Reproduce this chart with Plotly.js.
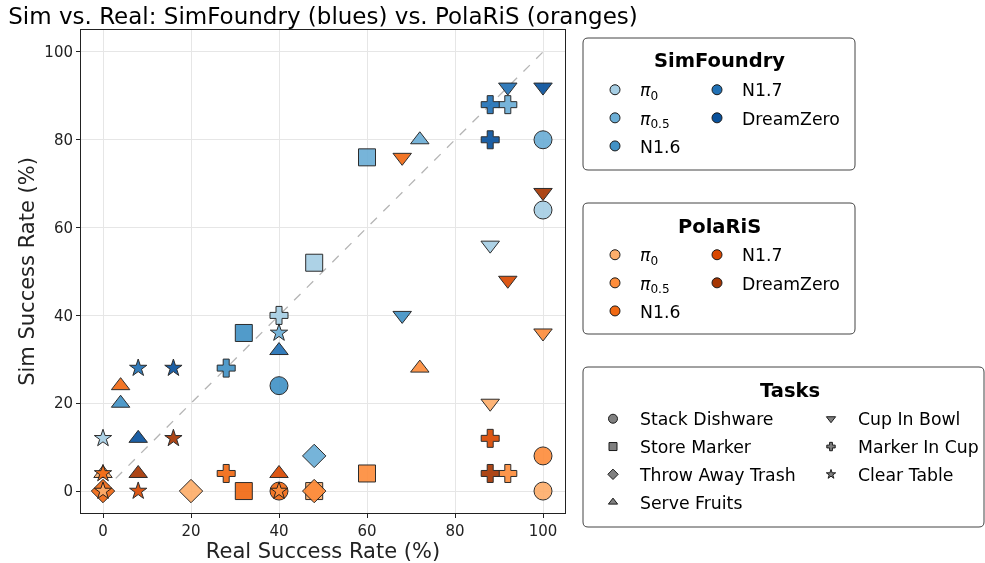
<!DOCTYPE html>
<html><head><meta charset="utf-8">
<script src="https://cdn.plot.ly/plotly-3.0.1.min.js"></script>
<style>html,body{margin:0;padding:0;background:#fff}#chart{width:985px;height:563px}</style>
</head><body><div id="chart"></div>
<script>
// ---------------- DATA ----------------
const tasks = ['Stack Dishware', 'Store Marker', 'Throw Away Trash', 'Serve Fruits', 'Cup In Bowl', 'Marker In Cup', 'Clear Table'];
const models = ['π0', 'π0.5', 'N1.6', 'N1.7', 'DreamZero'];
const modelLabels = ['<i>π</i><sub>0</sub>', '<i>π</i><sub>0.5</sub>', 'N1.6', 'N1.7', 'DreamZero'];

// Real success rate (%) per task (same x for both simulators)
const realPi0  = [100, 48, 20, 0, 88, 40, 0];
const realPi05 = [100, 60, 48, 72, 100, 92, 40];
const realN16  = [40, 32, 0, 4, 68, 28, 0];
const realN17  = [null, null, null, 40, 92, 88, 8];
const realDZ   = [null, null, null, 8, 100, 88, 16];

// SimFoundry success rate (%)
const simPi0  = [64, 52, null, null, 56, 40, 12];
const simPi05 = [80, 76, 8, 80, null, 88, 36];
const simN16  = [24, 36, null, 20, 40, 28, null];
const simN17  = [null, null, null, 32, 92, 88, 28];
const simDZ   = [null, null, null, 12, 92, 80, 28];

// PolaRiS success rate (%)
const polPi0  = [0, 0, 0, 4, 20, null, 0];
const polPi05 = [8, 4, 0, 28, 36, 4, 0];
const polN16  = [0, 0, 0, 24, 76, 4, 4];
const polN17  = [null, null, null, 4, 48, 12, 0];
const polDZ   = [null, null, null, 4, 68, 4, 12];

const diagX = [0, 100];
const diagY = [0, 100];

// ---------------- STYLE ----------------
const simColors = ['#a6cee4', '#6baed6', '#4292c6', '#2171b5', '#08519c'];
const polColors = ['#fdae6b', '#fd8d3c', '#f16913', '#d94801', '#a63603'];
const taskSymbols = ['circle', 'square', 'diamond', 'triangle-up', 'triangle-down', 'cross', 'star'];
const markerSizes = {'circle': 18, 'square': 17, 'diamond': 18, 'triangle-up': 16, 'triangle-down': 16, 'cross': 15, 'star': 13};
const legendSizes = {'circle': 9, 'square': 8, 'diamond': 8, 'triangle-up': 8, 'triangle-down': 8, 'cross': 7, 'star': 7};
const FONT = 'DejaVu Sans, Liberation Sans, sans-serif';

const realAll = [realPi0, realPi05, realN16, realN17, realDZ];
const simAll = [simPi0, simPi05, simN16, simN17, simDZ];
const polAll = [polPi0, polPi05, polN16, polN17, polDZ];

const traces = [];
traces.push({
  x: diagX, y: diagY, mode: 'lines', showlegend: false, hoverinfo: 'skip',
  line: {color: '#b5b5b5', width: 1.3, dash: 'dash'}
});

tasks.forEach((task, t) => {
  const xs = [], ys = [], cs = [], txt = [];
  models.forEach((m, i) => {
    const rx = realAll[i][t];
    if (rx === null) return;
    if (simAll[i][t] !== null) { xs.push(rx); ys.push(simAll[i][t]); cs.push(simColors[i]); txt.push('SimFoundry ' + m); }
    if (polAll[i][t] !== null) { xs.push(rx); ys.push(polAll[i][t]); cs.push(polColors[i]); txt.push('PolaRiS ' + m); }
  });
  const sym = taskSymbols[t];
  traces.push({
    x: xs, y: ys, text: txt, name: task, mode: 'markers', showlegend: false,
    opacity: 0.92,
    marker: {symbol: sym, size: markerSizes[sym], color: cs, line: {color: '#1a1a1a', width: 1}}
  });
});

// legend entries
models.forEach((m, i) => {
  traces.push({x: [null], y: [null], mode: 'markers', name: modelLabels[i],
    legend: i < 3 ? 'legend' : 'legend2', legendgroup: 'sf' + i, showlegend: true,
    marker: {symbol: 'circle', size: 10, color: simColors[i], line: {color: '#1a1a1a', width: 1}}});
});
models.forEach((m, i) => {
  traces.push({x: [null], y: [null], mode: 'markers', name: modelLabels[i],
    legend: i < 3 ? 'legend3' : 'legend4', legendgroup: 'pol' + i, showlegend: true,
    marker: {symbol: 'circle', size: 10, color: polColors[i], line: {color: '#1a1a1a', width: 1}}});
});
tasks.forEach((task, t) => {
  const sym = taskSymbols[t];
  traces.push({x: [null], y: [null], mode: 'markers', name: task,
    legend: t < 4 ? 'legend5' : 'legend6', legendgroup: 'task' + t, showlegend: true,
    marker: {symbol: sym, size: legendSizes[sym], color: '#808080', line: {color: '#1a1a1a', width: 1}}});
});

// ---------------- LAYOUT ----------------
const L = 81, T = 30, W = 484, H = 483;
const px = p => (p - L) / W;
const py = p => (T + H - p) / H;

function legendAt(left, top, iw, gap) {
  return {x: px(left), y: py(top), xanchor: 'left', yanchor: 'top', orientation: 'v',
    bgcolor: 'rgba(0,0,0,0)', borderwidth: 0, itemwidth: iw,
    traceorder: 'grouped', tracegroupgap: gap,
    font: {family: FONT, size: 17.3, color: '#000'}, itemclick: false, itemdoubleclick: false};
}

function roundBox(l, r, t, b) {
  const x0 = px(l), x1 = px(r), y0 = py(b), y1 = py(t);
  const rx = 5 / W, ry = 5 / H;
  return {type: 'path', xref: 'paper', yref: 'paper', line: {color: '#444', width: 1}, fillcolor: 'rgba(255,255,255,0.9)', layer: 'below',
    path: `M ${x0 + rx},${y1} L ${x1 - rx},${y1} Q ${x1},${y1} ${x1},${y1 - ry} L ${x1},${y0 + ry} Q ${x1},${y0} ${x1 - rx},${y0} L ${x0 + rx},${y0} Q ${x0},${y0} ${x0},${y0 + ry} L ${x0},${y1 - ry} Q ${x0},${y1} ${x0 + rx},${y1} Z`};
}

function boxTitle(text, cx, cy) {
  return {text: '<b>' + text + '</b>', x: px(cx), y: py(cy), xref: 'paper', yref: 'paper',
    xanchor: 'center', yanchor: 'middle', showarrow: false, font: {family: FONT, size: 19.5, color: '#000'}};
}

const axisCommon = {
  range: [-5, 105], dtick: 20, tick0: 0, showgrid: true, gridcolor: '#e6e6e6', gridwidth: 1,
  zeroline: false, showline: true, mirror: true, linecolor: '#222', linewidth: 1,
  ticks: 'outside', ticklen: 4, tickcolor: '#222', tickwidth: 1,
  tickfont: {family: FONT, size: 15, color: '#222'}
};

const layout = {
  width: 985, height: 563,
  margin: {l: L, r: 985 - L - W, t: T, b: 563 - T - H, pad: 0, autoexpand: false},
  paper_bgcolor: '#fff', plot_bgcolor: '#fff',
  font: {family: FONT, color: '#000'},
  title: {text: 'Sim vs. Real: SimFoundry (blues) vs. PolaRiS (oranges)', x: 0.5, xref: 'paper', xanchor: 'center',
    y: 1 - 16 / 563, yref: 'container', yanchor: 'middle', font: {family: FONT, size: 23, color: '#000'}},
  xaxis: Object.assign({}, axisCommon, {title: {text: 'Real Success Rate (%)', standoff: 0, font: {family: FONT, size: 21, color: '#222'}}}),
  yaxis: Object.assign({}, axisCommon, {title: {text: 'Sim Success Rate (%)', standoff: 4, font: {family: FONT, size: 21, color: '#222'}}}),
  showlegend: true,
  legend: legendAt(590, 72, 40, 2.6),
  legend2: legendAt(692, 72, 40, 2.6),
  legend3: legendAt(590, 237, 40, 2.6),
  legend4: legendAt(692, 237, 40, 2.6),
  legend5: legendAt(586, 401, 44, 2.3),
  legend6: legendAt(804, 401, 44, 2.3),
  shapes: [roundBox(583, 855, 38, 170), roundBox(583, 855, 203, 334), roundBox(583, 984, 367, 527)],
  annotations: [boxTitle('SimFoundry', 719, 60), boxTitle('PolaRiS', 719, 226), boxTitle('Tasks', 790, 390)]
};

Plotly.newPlot('chart', traces, layout, {displayModeBar: false, staticPlot: true});
</script>
</body></html>
